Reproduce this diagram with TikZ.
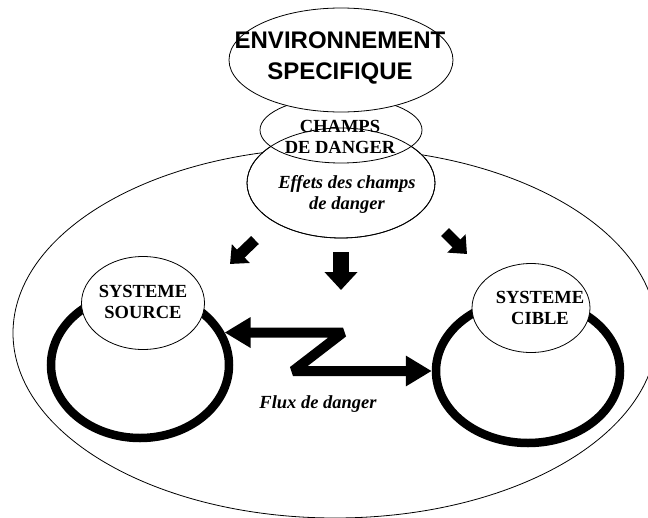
\documentclass[tikz,border=0pt]{standalone}
\usepackage{fontspec}
\setmainfont{Liberation Serif}
\newfontfamily\arialfont{Liberation Sans}
\usetikzlibrary{shapes.geometric,arrows.meta}
\begin{document}
\begin{tikzpicture}[x=1pt,y=-1pt,
  bubble/.style={ellipse, draw, line width=0.8pt, fill=white, inner sep=0pt},
  hollow/.style={ellipse, draw, line width=0.8pt, inner sep=0pt},
  loopring/.style={ellipse, draw, line width=8.5pt, inner sep=0pt},
  boldtxt/.style={font=\bfseries\fontsize{18.5}{21}\selectfont, align=center, inner sep=0pt},
  itxt/.style={font=\bfseries\itshape\fontsize{18.5}{21}\selectfont, align=center, inner sep=0pt},
  sidearrow/.style={line width=11pt, -{Triangle[width=25pt,length=15pt]}},
  mainarrow/.style={line width=16pt, -{Triangle[width=32pt,length=18pt]}},
  flux/.style={line width=10pt, line join=bevel,
    {Triangle[width=29pt,length=26pt]}-{Triangle[width=29pt,length=26pt]}},
]
\useasboundingbox (0,0) rectangle (648,517);

% outer environment
\begin{scope}
  \clip (0,0) rectangle (648,517);
  \node[hollow, minimum width=644pt, minimum height=370pt] (milieu) at (335,333) {};
\end{scope}

% source and target loops
\node[loopring, minimum width=178pt, minimum height=146pt] (srcring) at (140,365) {};
\node[loopring, minimum width=184pt, minimum height=144pt] (cibring) at (528,371) {};
\node[bubble, minimum width=123pt, minimum height=93pt] (source) at (143,303) {};
\node[bubble, minimum width=118pt, minimum height=89pt] (cible) at (531,308) {};

% effects of the danger fields
\coordinate (effLa) at (255,240);
\coordinate (effLb) at (230,264);
\coordinate (effMa) at (341,252);
\coordinate (effMb) at (341,290);
\coordinate (effRa) at (445,232);
\coordinate (effRb) at (467,254);
\draw[sidearrow] (effLa) -- (effLb);
\draw[mainarrow] (effMa) -- (effMb);
\draw[sidearrow] (effRa) -- (effRb);

% danger flow between the systems
\coordinate (zA) at (343,333);
\coordinate (zB) at (293,371);
\draw[flux] (srcring.21) -- (srcring.21 -| zA) -- (zB) -- (cibring.west);

% central stack of ellipses
\node[bubble, minimum width=188pt, minimum height=110pt] (effets) at (341,183) {};
\node[bubble, minimum width=162pt, minimum height=66pt] (champs) at (341,130) {};
\draw[line width=0.8pt] (effets.center) ellipse [x radius=94, y radius=55];
\node[bubble, minimum width=224pt, minimum height=104pt] (env) at (341,60) {};

% texts
\node[font=\arialfont\bfseries\fontsize{24}{31}\selectfont, align=center, inner sep=0pt]
  (envtext) at (340,58) {ENVIRONNEMENT\\SPECIFIQUE};
\node[boldtxt] (champstext) at (340,137) {CHAMPS\\DE DANGER};
\node[itxt] (effetstext) at (347,194) {Effets des champs\\de danger};
\node[boldtxt] (sourcetext) at (143,302) {SYSTEME\\SOURCE};
\node[boldtxt] (cibletext) at (540,308) {SYSTEME\\CIBLE};
\node[itxt] (fluxtext) at (318,404) {Flux de danger};
\end{tikzpicture}
\end{document}
